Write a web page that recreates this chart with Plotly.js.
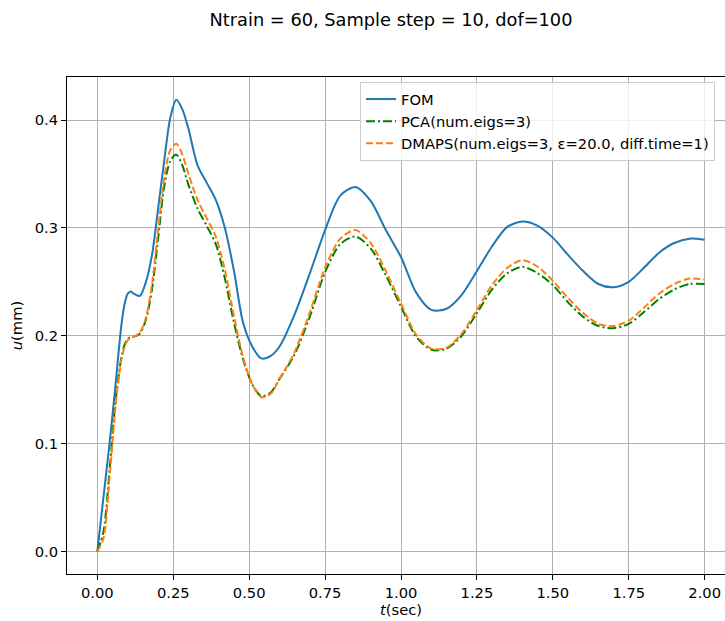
<!DOCTYPE html>
<html>
<head>
<meta charset="utf-8">
<script src="https://cdn.plot.ly/plotly-3.0.1.min.js"></script>
<style>
html,body{margin:0;padding:0;overflow:hidden;background:#fff;}
#chart{width:740px;height:621px;}
</style>
</head>
<body>
<div id="chart"></div>
<script>
const t = [0, 0.02, 0.04, 0.06, 0.07, 0.08, 0.09, 0.10, 0.11, 0.12, 0.14, 0.16, 0.18, 0.20, 0.22, 0.24, 0.26, 0.28, 0.30, 0.33, 0.36, 0.39, 0.42, 0.45, 0.48, 0.51, 0.54, 0.57, 0.60, 0.65, 0.70, 0.75, 0.80, 0.85, 0.90, 0.95, 1.00, 1.05, 1.10, 1.15, 1.20, 1.25, 1.30, 1.35, 1.40, 1.45, 1.50, 1.55, 1.60, 1.65, 1.70, 1.75, 1.80, 1.85, 1.90, 1.95, 2.00];

const fom = [0, 0.050, 0.100, 0.155, 0.185, 0.212, 0.230, 0.239, 0.241, 0.239, 0.237, 0.250, 0.275, 0.318, 0.362, 0.402, 0.419, 0.410, 0.392, 0.358, 0.342, 0.326, 0.300, 0.260, 0.212, 0.190, 0.179, 0.181, 0.190, 0.220, 0.258, 0.298, 0.330, 0.338, 0.325, 0.298, 0.273, 0.240, 0.224, 0.225, 0.238, 0.260, 0.283, 0.301, 0.306, 0.302, 0.291, 0.275, 0.260, 0.248, 0.245, 0.250, 0.263, 0.277, 0.286, 0.290, 0.289];

const pca = [0, 0.018, 0.075, 0.140, 0.163, 0.181, 0.192, 0.197, 0.199, 0.199, 0.202, 0.215, 0.243, 0.290, 0.338, 0.362, 0.368, 0.358, 0.340, 0.318, 0.302, 0.285, 0.253, 0.212, 0.178, 0.155, 0.144, 0.147, 0.160, 0.183, 0.218, 0.259, 0.285, 0.292, 0.281, 0.256, 0.227, 0.199, 0.187, 0.188, 0.200, 0.221, 0.243, 0.258, 0.264, 0.258, 0.247, 0.231, 0.2175, 0.209, 0.207, 0.211, 0.222, 0.234, 0.243, 0.248, 0.248];

const dmaps = [0, 0.012, 0.068, 0.135, 0.160, 0.179, 0.190, 0.196, 0.198, 0.199, 0.203, 0.217, 0.248, 0.298, 0.346, 0.372, 0.378, 0.368, 0.350, 0.326, 0.309, 0.292, 0.261, 0.218, 0.180, 0.155, 0.143, 0.146, 0.160, 0.185, 0.222, 0.263, 0.290, 0.298, 0.286, 0.260, 0.230, 0.201, 0.188, 0.189, 0.202, 0.224, 0.247, 0.263, 0.270, 0.264, 0.251, 0.235, 0.221, 0.211, 0.209, 0.214, 0.226, 0.239, 0.248, 0.253, 0.252];

const names = ["FOM", "PCA(num.eigs=3)", "DMAPS(num.eigs=3, ε=20.0, diff.time=1)"];
const titleText = "Ntrain = 60, Sample step = 10, dof=100";

const font = "DejaVu Sans, sans-serif";
const fs = 14.7;

const traces = [
  {x: t, y: fom, name: names[0], mode: "lines", line: {color: "#1f77b4", width: 2, shape: "spline", smoothing: 0.8}},
  {x: t, y: pca, name: names[1], mode: "lines", line: {color: "#008000", width: 2, dash: "9px,3px,2px,3px", shape: "spline", smoothing: 0.8}},
  {x: t, y: dmaps, name: names[2], mode: "lines", line: {color: "#ff7f0e", width: 2, dash: "7px,3px", shape: "spline", smoothing: 0.8}}
];

const axisCommon = {
  showgrid: true, gridcolor: "#b0b0b0", gridwidth: 1,
  zeroline: false, showline: true, linecolor: "#000", linewidth: 1, mirror: true,
  ticks: "outside", ticklen: 5, tickwidth: 1, tickcolor: "#000",
  tickfont: {family: font, size: fs, color: "#000"}
};

const layout = {
  width: 740, height: 621,
  margin: {l: 67, r: 5, t: 77, b: 47},
  paper_bgcolor: "#fff", plot_bgcolor: "#fff",
  title: {text: titleText, font: {family: font, size: 17.8, color: "#000"}, x: 391/740, xref: "container", xanchor: "center", y: 1 - 20/621, yref: "container", yanchor: "middle"},
  xaxis: Object.assign({}, axisCommon, {range: [-0.1, 2.1], dtick: 0.25, tick0: 0, tickformat: ".2f",
    title: {text: "<i>t</i>(sec)", font: {family: font, size: fs, color: "#000"}, standoff: 4}}),
  yaxis: Object.assign({}, axisCommon, {range: [-0.021, 0.440], dtick: 0.1, tick0: 0, tickformat: ".1f",
    title: {text: "<i>u</i>(mm)", font: {family: font, size: fs, color: "#000"}, standoff: 8}}),
  legend: {x: (360-67)/668, y: 1 - (82-77)/497, xanchor: "left", yanchor: "top",
    bgcolor: "rgba(255,255,255,0.8)", bordercolor: "#cccccc", borderwidth: 1,
    font: {family: font, size: fs, color: "#000"}, tracegroupgap: 0, itemwidth: 30},
  showlegend: true
};

Plotly.newPlot("chart", traces, layout, {displayModeBar: false, staticPlot: true});
</script>
</body>
</html>
